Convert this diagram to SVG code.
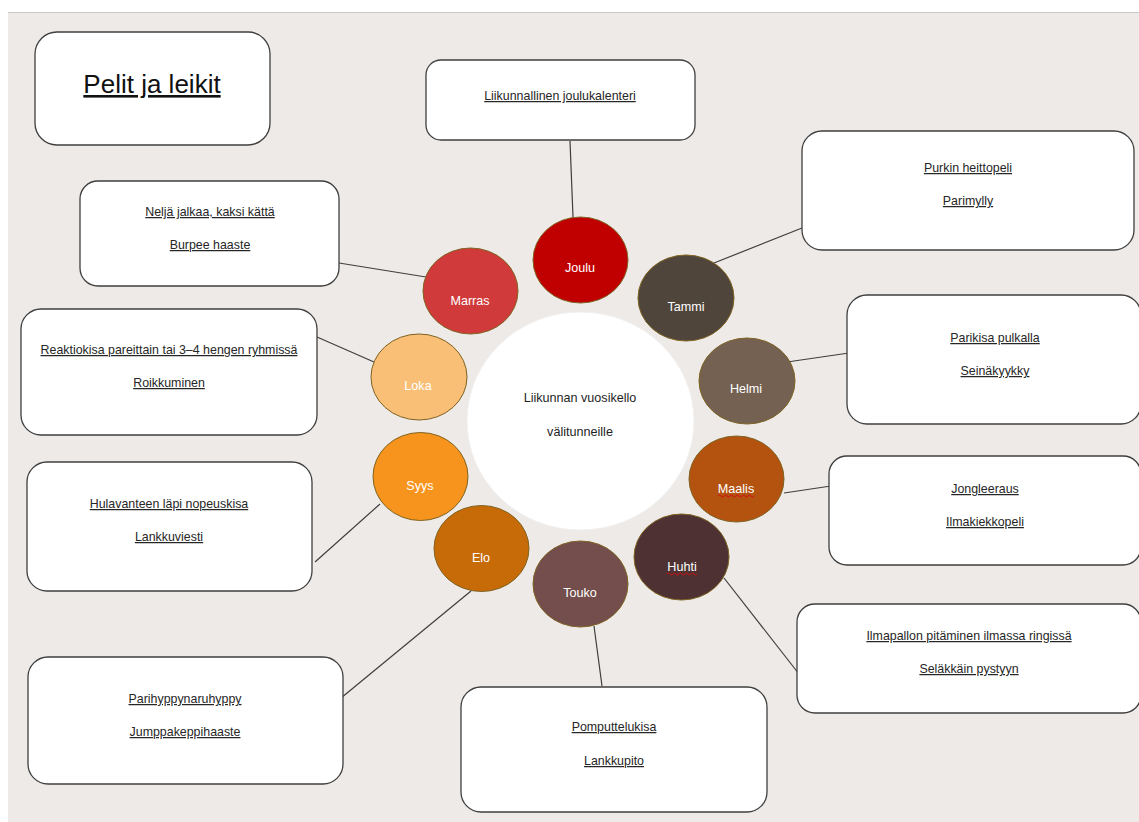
<svg xmlns="http://www.w3.org/2000/svg" width="1139" height="822" viewBox="0 0 1139 822">
<style>
.box{fill:#ffffff;stroke:#3f3f3f;stroke-width:1.3}
.t{font-family:"Liberation Sans",Arial,sans-serif;font-size:12.4px;fill:#262626;text-anchor:middle;text-decoration:underline}
.title{font-family:"Liberation Sans",Arial,sans-serif;font-size:26px;fill:#111111;text-anchor:middle;text-decoration:underline}
.m{font-family:"Liberation Sans",Arial,sans-serif;font-size:12.6px;fill:#ffffff;text-anchor:middle}
.ctr{font-family:"Liberation Sans",Arial,sans-serif;font-size:12.6px;fill:#1e1e1e;text-anchor:middle}
.mc{stroke:#7f6322;stroke-width:1}
.conn line{stroke:#3f3f3f;stroke-width:1.2}
.spell{fill:none;stroke:#d01010;stroke-width:1}
</style>
<rect x="0" y="0" width="1139" height="822" fill="#ffffff"/>
<rect x="8" y="12" width="1131" height="810" fill="#edeae7"/>
<line x1="8" y1="12.5" x2="1139" y2="12.5" stroke="#c8c8c8" stroke-width="1"/>

<g id="connectors" class="conn">
<line x1="570" y1="141" x2="573" y2="217"/>
<line x1="802" y1="228" x2="714" y2="263"/>
<line x1="849" y1="353" x2="787" y2="362"/>
<line x1="831" y1="486" x2="784" y2="493"/>
<line x1="724" y1="578" x2="799" y2="674"/>
<line x1="594" y1="626" x2="602" y2="686"/>
<line x1="471" y1="591" x2="341" y2="698"/>
<line x1="380" y1="504" x2="315" y2="562"/>
<line x1="317" y1="337" x2="374" y2="362"/>
<line x1="339" y1="263" x2="426" y2="277"/>
</g>

<g id="title">
<rect class="box" x="35" y="32" width="235" height="113" rx="22"/>
<text class="title" x="152" y="93">Pelit ja leikit</text>
</g>

<g id="box-joulukalenteri">
<rect class="box" x="426" y="60" width="269" height="80" rx="15"/>
<text class="t" x="560" y="100">Liikunnallinen joulukalenteri</text>
</g>

<g id="box-purkin">
<rect class="box" x="802" y="131" width="332" height="119" rx="20"/>
<text class="t" x="968" y="172">Purkin heittopeli</text>
<text class="t" x="968" y="205">Parimylly</text>
</g>

<g id="box-parikisa">
<rect class="box" x="847" y="295" width="294" height="129" rx="20"/>
<text class="t" x="995" y="342">Parikisa pulkalla</text>
<text class="t" x="995" y="375">Seinäkyykky</text>
</g>

<g id="box-jongleeraus">
<rect class="box" x="829" y="456" width="312" height="109" rx="18"/>
<text class="t" x="985" y="493">Jongleeraus</text>
<text class="t" x="985" y="526">Ilmakiekkopeli</text>
</g>

<g id="box-ilmapallon">
<rect class="box" x="797" y="604" width="344" height="109" rx="18"/>
<text class="t" x="969" y="640">Ilmapallon pitäminen ilmassa ringissä</text>
<text class="t" x="969" y="673">Seläkkäin pystyyn</text>
</g>

<g id="box-pomputtelukisa">
<rect class="box" x="461" y="687" width="306" height="125" rx="20"/>
<text class="t" x="614" y="731">Pomputtelukisa</text>
<text class="t" x="614" y="765">Lankkupito</text>
</g>

<g id="box-parihyppy">
<rect class="box" x="28" y="657" width="315" height="127" rx="20"/>
<text class="t" x="185" y="703">Parihyppynaruhyppy</text>
<text class="t" x="185" y="736">Jumppakeppihaaste</text>
</g>

<g id="box-hulavanteen">
<rect class="box" x="27" y="462" width="285" height="129" rx="20"/>
<text class="t" x="169" y="508">Hulavanteen läpi nopeuskisa</text>
<text class="t" x="169" y="541">Lankkuviesti</text>
</g>

<g id="box-reaktiokisa">
<rect class="box" x="21" y="309" width="296" height="126" rx="20"/>
<text class="t" x="169" y="354">Reaktiokisa pareittain tai 3–4 hengen ryhmissä</text>
<text class="t" x="169" y="387">Roikkuminen</text>
</g>

<g id="box-nelja">
<rect class="box" x="80" y="181" width="259" height="105" rx="18"/>
<text class="t" x="210" y="216">Neljä jalkaa, kaksi kättä</text>
<text class="t" x="210" y="249">Burpee haaste</text>
</g>

<g id="center">
<ellipse cx="580.5" cy="421" rx="113.5" ry="109" fill="#ffffff" stroke="#f1f1f1" stroke-width="1"/>
<text class="ctr" x="580" y="402">Liikunnan vuosikello</text>
<text class="ctr" x="580" y="436">välitunneille</text>
</g>

<g id="joulu">
<ellipse class="mc" cx="580.5" cy="260" rx="47.5" ry="43" fill="#c00000"/>
<text class="m" x="580" y="272">Joulu</text>
</g>
<g id="tammi">
<ellipse class="mc" cx="686" cy="298" rx="48" ry="43" fill="#50453b"/>
<text class="m" x="686" y="311">Tammi</text>
</g>
<g id="helmi">
<ellipse class="mc" cx="747" cy="381" rx="48" ry="43" fill="#746151"/>
<text class="m" x="746" y="393">Helmi</text>
</g>
<g id="maalis">
<ellipse class="mc" cx="736.5" cy="479" rx="47.5" ry="43" fill="#b45310"/>
<text class="m" x="736" y="493">Maalis</text>
<path class="spell" d="M718 496 q1.5 -2 3 0 t3 0 t3 0 t3 0 t3 0 t3 0 t3 0 t3 0 t3 0 t3 0 t3 0 t3 0"/>
</g>
<g id="huhti">
<ellipse class="mc" cx="681.5" cy="557" rx="47.5" ry="43" fill="#4e3233"/>
<text class="m" x="682" y="571">Huhti</text>
<path class="spell" d="M667 574 q1.5 -2 3 0 t3 0 t3 0 t3 0 t3 0 t3 0 t3 0 t3 0 t3 0 t3 0"/>
</g>
<g id="touko">
<ellipse class="mc" cx="580.5" cy="584" rx="47.5" ry="43" fill="#744e4c"/>
<text class="m" x="580" y="597">Touko</text>
</g>
<g id="elo">
<ellipse class="mc" cx="481.5" cy="548.5" rx="47.5" ry="43" fill="#c76b08"/>
<text class="m" x="481" y="562">Elo</text>
</g>
<g id="syys">
<ellipse class="mc" cx="420.5" cy="476.5" rx="47.5" ry="44" fill="#f7941e"/>
<text class="m" x="420" y="490">Syys</text>
</g>
<g id="loka">
<ellipse class="mc" cx="419" cy="377" rx="48" ry="43" fill="#f9bf77"/>
<text class="m" x="418" y="390">Loka</text>
</g>
<g id="marras">
<ellipse class="mc" cx="470.5" cy="291" rx="47.5" ry="43" fill="#d03a3a"/>
<text class="m" x="470" y="305">Marras</text>
</g>
</svg>
